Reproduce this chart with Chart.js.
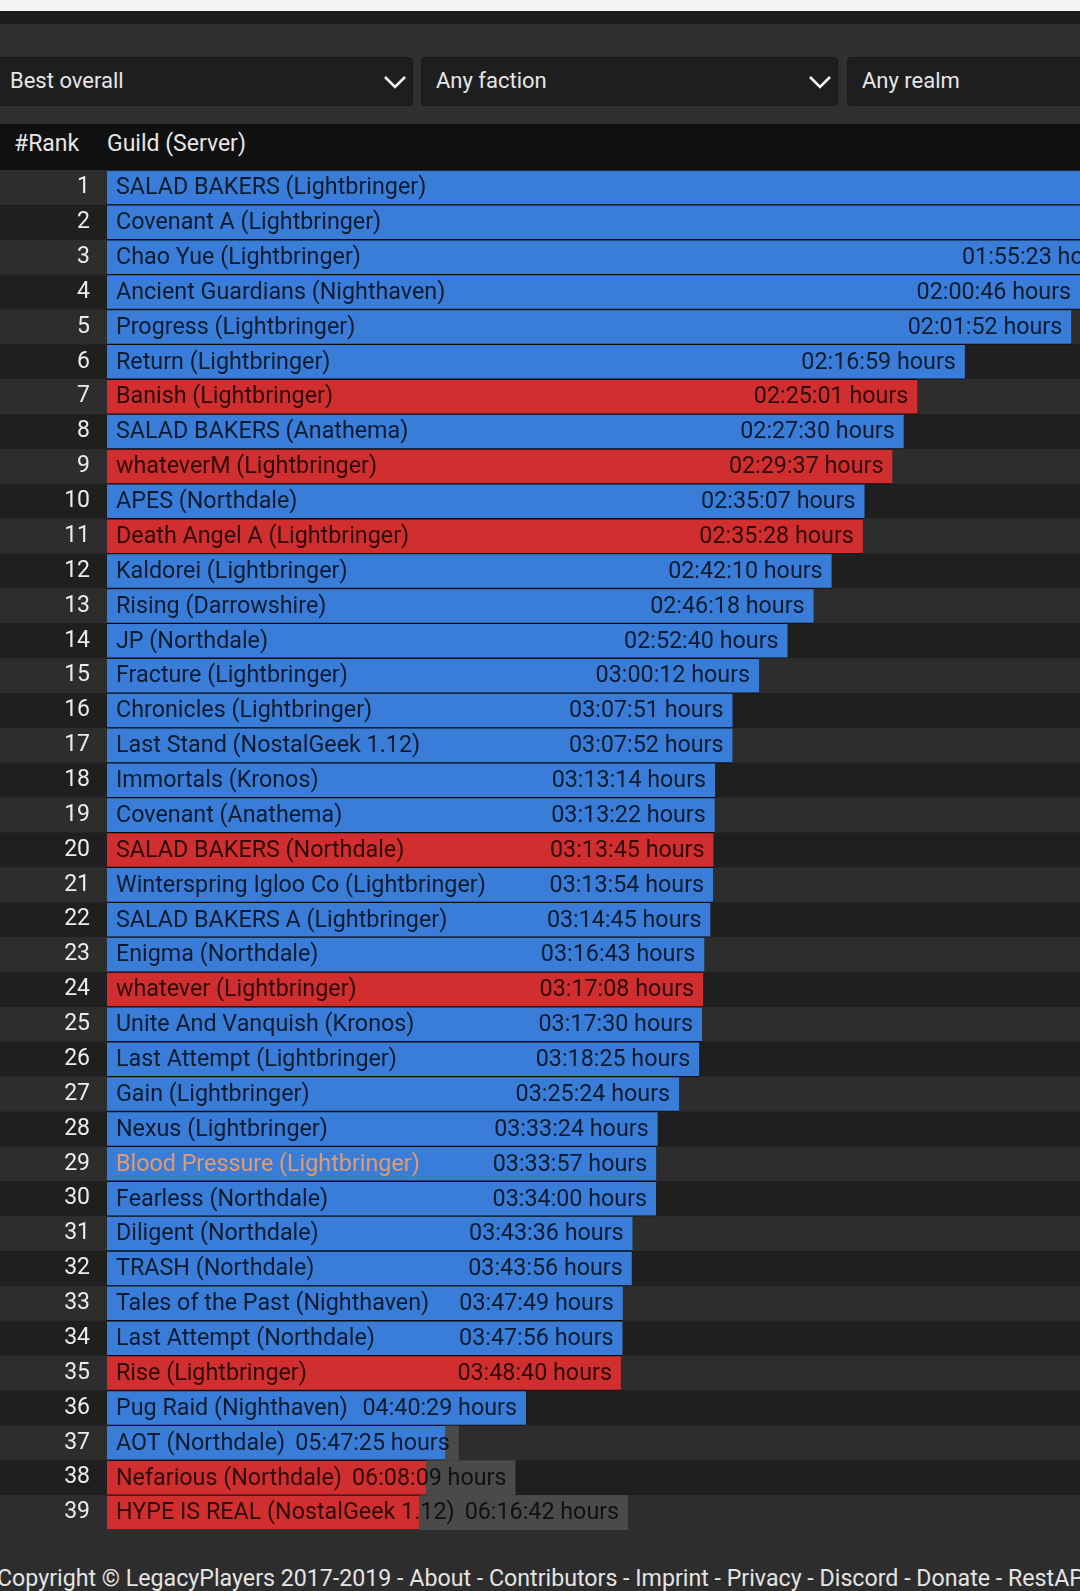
<!DOCTYPE html>
<html lang="en">

<head>
    <meta charset="UTF-8">
    <title>Guild ranking | LegacyPlayers</title>
    <script src="https://cdn.jsdelivr.net/npm/chart.js"></script>
    <style>
        body {
            margin: 0;
            width: 1080px;
            height: 1591px;
            overflow: hidden;
            position: relative;
            background: #2d2d2d;
            font-family: Roboto, sans-serif;
            color: #e6e6e6;
        }

        .topo { position: absolute; left: 0; top: 0; width: 1080px; height: 11px; background: #f3f3f3; }
        .faixa { position: absolute; left: 0; top: 11px; width: 1080px; height: 13px; background: #1b1c1b; }
        .filtros { position: absolute; left: 0; top: 24px; width: 1080px; height: 100px; background: #303030; }

        .select {
            position: absolute;
            top: 33px;
            height: 49px;
            box-sizing: border-box;
            background: #1e1e1e;
            border: 1px solid #191919;
            border-radius: 4px;
            font-size: 22px;
            line-height: 46px;
            white-space: nowrap;
        }

        .select svg { position: absolute; top: 17px; }

        .cabecalho {
            position: absolute; left: 0; top: 124px; width: 1080px; height: 46px;
            background: #101010; font-size: 23px; line-height: 40px;
        }

        .cabecalho span { position: absolute; top: 0; }

        #grafico { position: absolute; left: 0; top: 170px; }

        .rodape {
            position: absolute; left: -3px; top: 1530px; width: 1200px; height: 61px;
            font-size: 23.2px; line-height: 28px; padding-top: 34px; box-sizing: border-box;
            white-space: nowrap; color: #e4e4e4;
        }
    </style>
</head>

<body>

    <div class="topo"></div>
    <div class="faixa"></div>

    <div class="filtros">
        <div class="select" style="left:-5px; width:418px;">
            <span style="margin-left:14px;">Best overall</span>
            <svg style="right:5px;" width="24" height="14"><polyline points="2,2 12,12 22,2" fill="none" stroke="#f2f2f2" stroke-width="2.6"/></svg>
        </div>
        <div class="select" style="left:421px; width:417px;">
            <span style="margin-left:14px;">Any faction</span>
            <svg style="right:5px;" width="24" height="14"><polyline points="2,2 12,12 22,2" fill="none" stroke="#f2f2f2" stroke-width="2.6"/></svg>
        </div>
        <div class="select" style="left:847px; width:260px;">
            <span style="margin-left:14px;">Any realm</span>
        </div>
    </div>

    <div class="cabecalho">
        <span style="left:14px;">#Rank</span>
        <span style="left:107px;">Guild (Server)</span>
    </div>

    <canvas id="grafico" width="1080" height="1360"></canvas>

    <div class="rodape">Copyright © LegacyPlayers 2017-2019 - About - Contributors - Imprint - Privacy - Discord - Donate - RestAPI</div>

</body>

</html>

<script>

    // ranking (rows 1 and 2 run off the right edge, their times are estimated)
    const ranks = ['1', '2', '3', '4', '5', '6', '7', '8', '9', '10', '11', '12', '13', '14', '15', '16', '17', '18', '19', '20',
        '21', '22', '23', '24', '25', '26', '27', '28', '29', '30', '31', '32', '33', '34', '35', '36', '37', '38', '39'];

    const guildas = [
        'SALAD BAKERS (Lightbringer)', 'Covenant A (Lightbringer)', 'Chao Yue (Lightbringer)', 'Ancient Guardians (Nighthaven)',
        'Progress (Lightbringer)', 'Return (Lightbringer)', 'Banish (Lightbringer)', 'SALAD BAKERS (Anathema)',
        'whateverM (Lightbringer)', 'APES (Northdale)', 'Death Angel A (Lightbringer)', 'Kaldorei (Lightbringer)',
        'Rising (Darrowshire)', 'JP (Northdale)', 'Fracture (Lightbringer)', 'Chronicles (Lightbringer)',
        'Last Stand (NostalGeek 1.12)', 'Immortals (Kronos)', 'Covenant (Anathema)', 'SALAD BAKERS (Northdale)',
        'Winterspring Igloo Co (Lightbringer)', 'SALAD BAKERS A (Lightbringer)', 'Enigma (Northdale)', 'whatever (Lightbringer)',
        'Unite And Vanquish (Kronos)', 'Last Attempt (Lightbringer)', 'Gain (Lightbringer)', 'Nexus (Lightbringer)',
        'Blood Pressure (Lightbringer)', 'Fearless (Northdale)', 'Diligent (Northdale)', 'TRASH (Northdale)',
        'Tales of the Past (Nighthaven)', 'Last Attempt (Northdale)', 'Rise (Lightbringer)', 'Pug Raid (Nighthaven)',
        'AOT (Northdale)', 'Nefarious (Northdale)', 'HYPE IS REAL (NostalGeek 1.12)'];

    const tempos = [
        '01:35:10', '01:41:50', '01:55:23', '02:00:46', '02:01:52', '02:16:59', '02:25:01', '02:27:30',
        '02:29:37', '02:35:07', '02:35:28', '02:42:10', '02:46:18', '02:52:40', '03:00:12', '03:07:51',
        '03:07:52', '03:13:14', '03:13:22', '03:13:45', '03:13:54', '03:14:45', '03:16:43', '03:17:08',
        '03:17:30', '03:18:25', '03:25:24', '03:33:24', '03:33:57', '03:34:00', '03:43:36', '03:43:56',
        '03:47:49', '03:47:56', '03:48:40', '04:40:29', '05:47:25', '06:08:09', '06:16:42'];

    // A = alliance (blue), H = horde (red)
    const faccoes = ['A', 'A', 'A', 'A', 'A', 'A', 'H', 'A', 'H', 'A', 'H', 'A', 'A', 'A', 'A', 'A', 'A', 'A', 'A', 'H',
        'A', 'A', 'A', 'H', 'A', 'A', 'A', 'A', 'A', 'A', 'A', 'A', 'A', 'A', 'H', 'A', 'A', 'H', 'H'];

    const destaque = 'Blood Pressure (Lightbringer)';

    const AZUL = '#3a7dd8';
    const VERMELHO = '#d12f2f';
    const FONTE = '23.3px Roboto';

    function segundos(t) {
        const p = t.split(':').map(Number);
        return p[0] * 3600 + p[1] * 60 + p[2];
    }

    // bar length is inversely proportional to the kill time
    const velocidade = tempos.map(t => 1e6 / segundos(t));

    const linhasPlugin = {
        id: 'linhas',
        beforeDraw(chart) {
            const ctx = chart.ctx;
            const y = chart.scales.y;
            const h = y.height / ranks.length;
            ranks.forEach((r, i) => {
                const c = y.getPixelForValue(i);
                ctx.fillStyle = i % 2 === 0 ? '#2c2d2c' : '#1f1f1f';
                ctx.fillRect(0, c - h / 2, chart.width, h);
            });
        },
        beforeDatasetsDraw(chart) {
            // grey box behind labels that do not fit in their bar
            const ctx = chart.ctx;
            const meta = chart.getDatasetMeta(0);
            ctx.font = FONTE;
            meta.data.forEach((bar, i) => {
                const conteudo = 9 + ctx.measureText(guildas[i]).width + 10 + ctx.measureText(tempos[i] + ' hours').width + 9;
                if (bar.base + conteudo > bar.x) {
                    ctx.fillStyle = '#4a4a4a';
                    ctx.fillRect(bar.base, bar.y - bar.height / 2, conteudo, bar.height);
                }
            });
        },
        afterDatasetsDraw(chart) {
            const ctx = chart.ctx;
            const meta = chart.getDatasetMeta(0);
            ctx.save();
            ctx.font = FONTE;
            ctx.textBaseline = 'middle';
            meta.data.forEach((bar, i) => {
                const nome = guildas[i];
                const tempo = tempos[i] + ' hours';
                const conteudo = 9 + ctx.measureText(nome).width + 10 + ctx.measureText(tempo).width + 9;
                const fim = Math.max(bar.x, bar.base + conteudo);

                ctx.textAlign = 'left';
                ctx.fillStyle = nome === destaque ? '#e39a6c' : 'rgba(0,0,0,0.78)';
                ctx.fillText(nome, bar.base + 9, bar.y + 1);

                ctx.textAlign = 'right';
                ctx.fillStyle = 'rgba(0,0,0,0.78)';
                ctx.fillText(tempo, fim - 9, bar.y + 1);
            });
            ctx.restore();
        }
    };

    function montaGrafico() {
        const ctx = document.getElementById('grafico').getContext('2d');

        new Chart(ctx, {
            type: 'bar',
            data: {
                labels: ranks,
                datasets: [{
                    data: velocidade,
                    backgroundColor: faccoes.map(f => f === 'H' ? VERMELHO : AZUL),
                    borderColor: 'rgba(0,0,0,0.6)',
                    borderWidth: { top: 1, bottom: 1, left: 0, right: 0 },
                    borderSkipped: false,
                    barPercentage: 1,
                    categoryPercentage: 1
                }]
            },
            options: {
                indexAxis: 'y',
                responsive: false,
                animation: false,
                layout: { padding: 0 },
                plugins: {
                    legend: { display: false },
                    tooltip: { enabled: false }
                },
                scales: {
                    x: {
                        display: false,
                        min: 0,
                        max: 138
                    },
                    y: {
                        afterFit(scale) {
                            scale.width = 107;
                            scale.paddingTop = 0;
                            scale.paddingBottom = 0;
                        },
                        border: { display: false },
                        grid: { display: false, drawTicks: false },
                        ticks: {
                            autoSkip: false,
                            padding: 17,
                            color: '#ececec',
                            font: { family: 'Roboto', size: 23 }
                        }
                    }
                }
            },
            plugins: [linhasPlugin]
        });
    }

    document.fonts.load(FONTE).then(montaGrafico, montaGrafico);

</script>
